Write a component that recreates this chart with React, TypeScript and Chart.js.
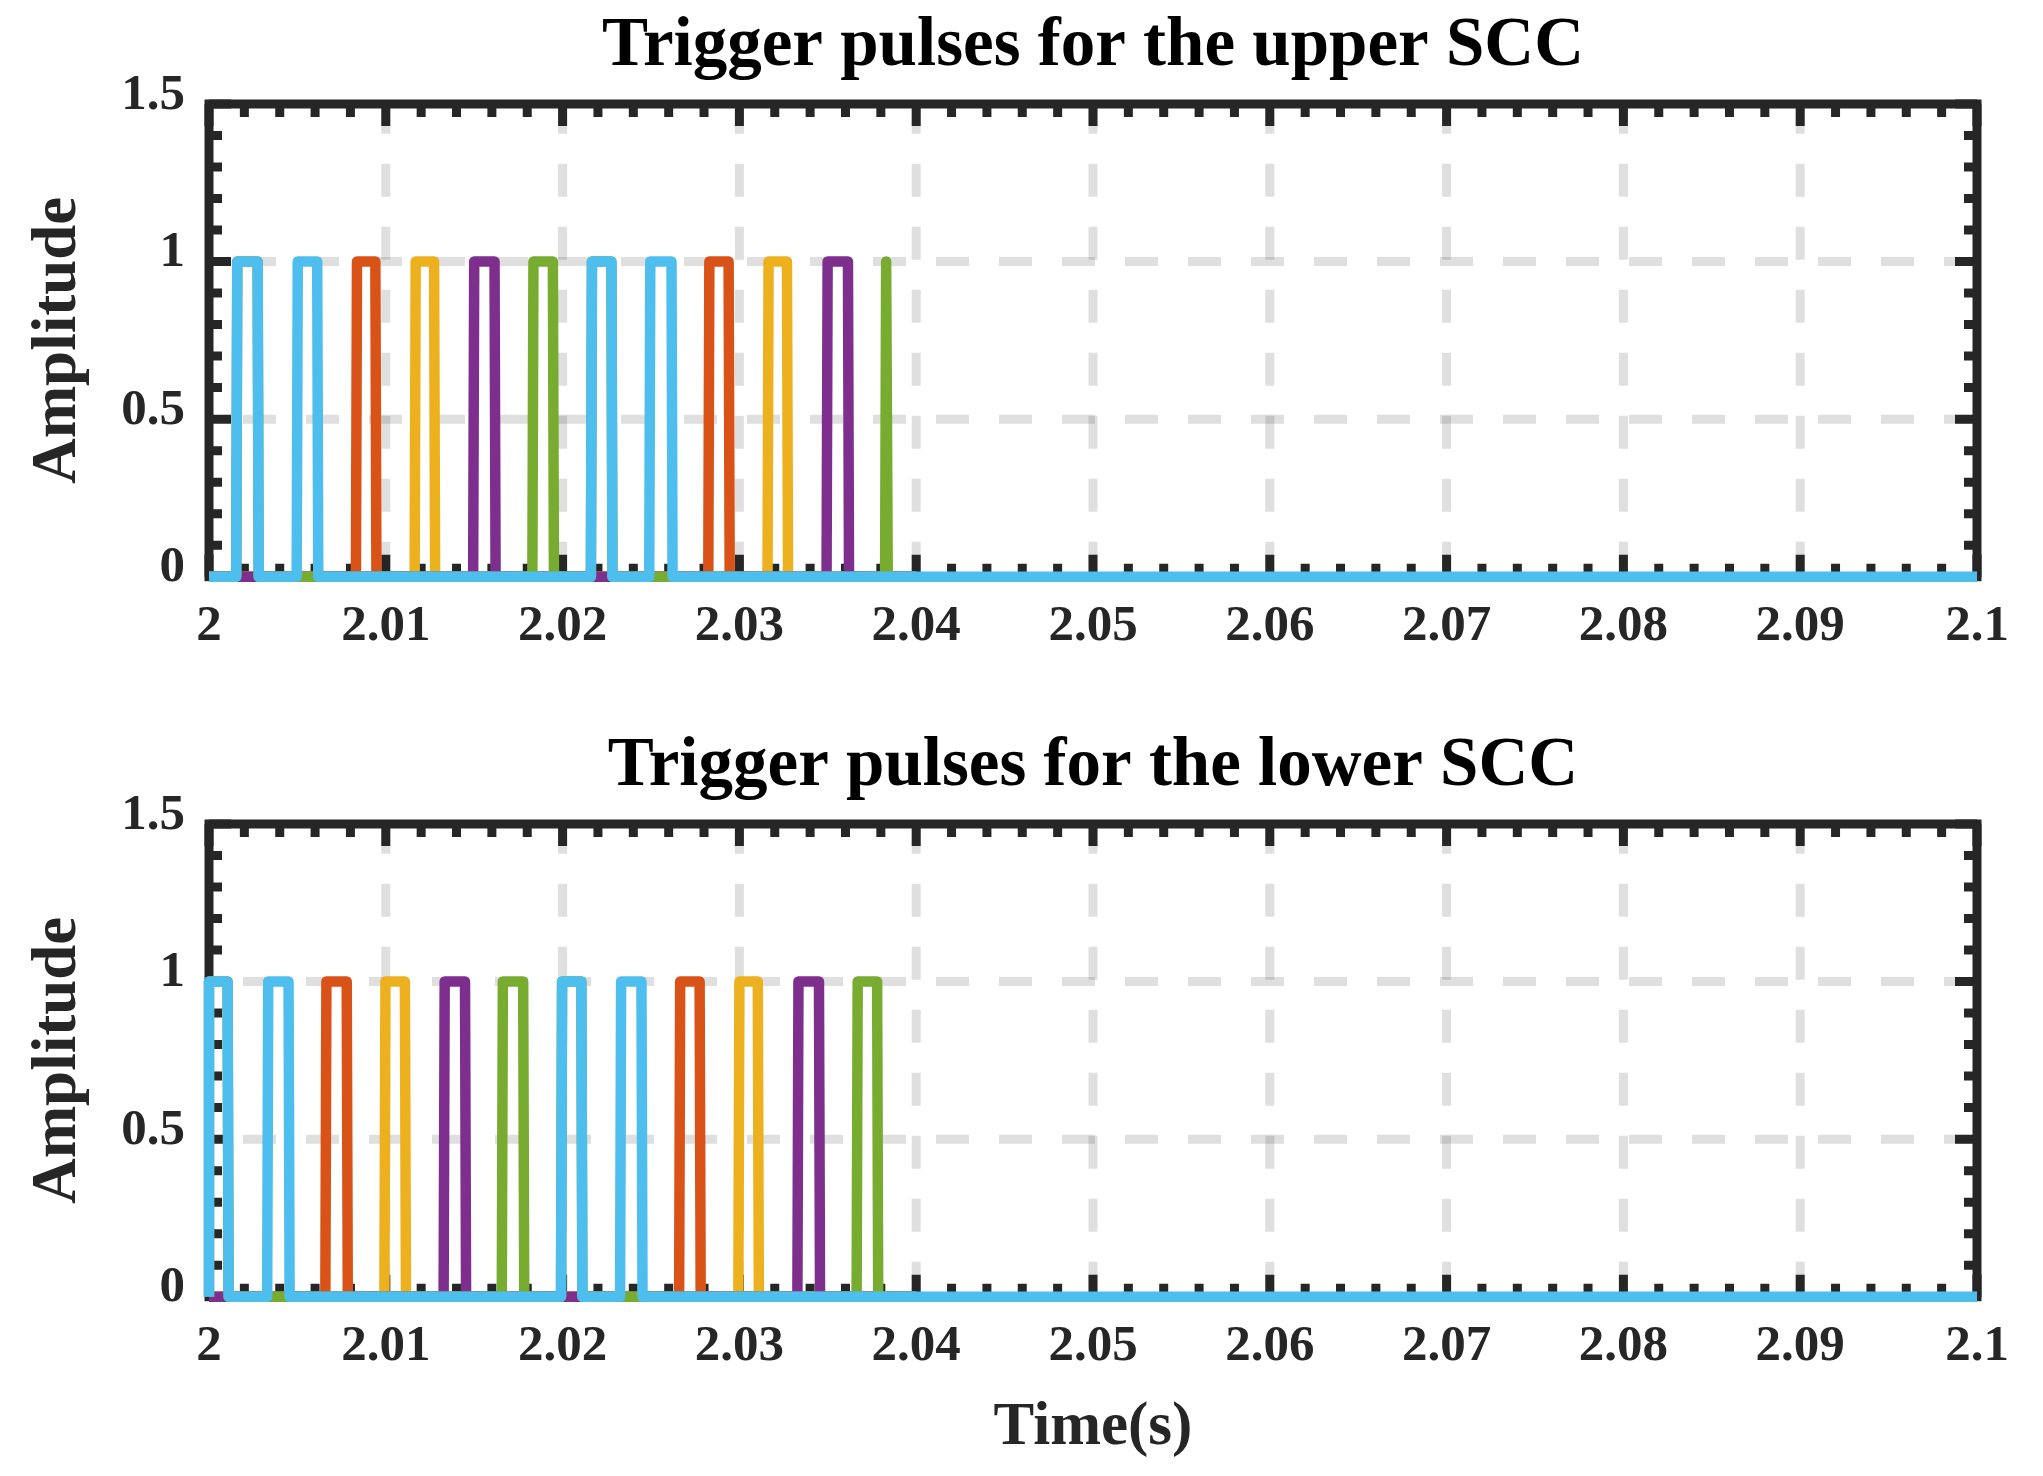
import { useEffect, useRef } from 'react';
import { Chart, registerables } from 'chart.js';

Chart.register(...registerables);

// ---------- axis values ----------
const X_MIN = 2;
const X_MAX = 2.1;
const Y_MIN = 0;
const Y_MAX = 1.5;
const X_TICKS = [2, 2.01, 2.02, 2.03, 2.04, 2.05, 2.06, 2.07, 2.08, 2.09, 2.1];
const X_TICK_LABELS = ['2', '2.01', '2.02', '2.03', '2.04', '2.05', '2.06', '2.07', '2.08', '2.09', '2.1'];
const Y_TICKS = [0, 0.5, 1, 1.5];
const Y_TICK_LABELS = ['0', '0.5', '1', '1.5'];
const X_MINOR_STEP = 0.002;
const Y_MINOR_STEP = 0.1;

const TITLE_UPPER = 'Trigger pulses for the upper SCC';
const TITLE_LOWER = 'Trigger pulses for the lower SCC';
const Y_TITLE = 'Amplitude';
const X_TITLE = 'Time(s)';

// ---------- pulse data: [rise time, fall time] (s), amplitude 1 ----------
const UPPER_CYAN: [number, number][] = [[2.0016, 2.00275], [2.00502, 2.00612], [2.02166, 2.02276], [2.02496, 2.02616]];
const UPPER_ORANGE: [number, number][] = [[2.00837, 2.00941], [2.0283, 2.02939]];
const UPPER_YELLOW: [number, number][] = [[2.01169, 2.01273], [2.03165, 2.03269]];
const UPPER_PURPLE: [number, number][] = [[2.015, 2.01615], [2.03499, 2.03614]];
const UPPER_GREEN: [number, number][] = [[2.0016, 2.00275], [2.01835, 2.01945], [2.02166, 2.02276], [2.0383, 2.03833]];

const LOWER_CYAN: [number, number][] = [[2.0, 2.00105], [2.00335, 2.0045], [2.01997, 2.02106], [2.02331, 2.02446]];
const LOWER_ORANGE: [number, number][] = [[2.00664, 2.00779], [2.02665, 2.02775]];
const LOWER_YELLOW: [number, number][] = [[2.00998, 2.01108], [2.03, 2.03104]];
const LOWER_PURPLE: [number, number][] = [[2.01333, 2.01448], [2.03334, 2.0345]];
const LOWER_GREEN: [number, number][] = [[2.0, 2.00105], [2.01662, 2.01777], [2.01997, 2.02106], [2.03669, 2.03779]];

const COLORED_END = 2.04; // end of recorded colored signals
const CYAN_END = 2.1;
const EDGE = 0.00006; // rise / fall time of each edge

// ---------- style ----------
const FONT = "'Liberation Serif', 'Times New Roman', serif";
const AXIS_COLOR = '#262626';
const GRID_COLOR = 'rgba(38,38,38,0.15)';
const C_CYAN = '#4DBEEE';
const C_ORANGE = '#D95319';
const C_YELLOW = '#EDB120';
const C_PURPLE = '#7E2F8E';
const C_GREEN = '#77AC30';

function pulseTrain(pulses: [number, number][], tEnd: number) {
  const pts: { x: number; y: number }[] = [{ x: X_MIN, y: 0 }];
  for (const [s, e] of pulses) {
    pts.push({ x: Math.max(X_MIN, s - EDGE), y: 0 });
    pts.push({ x: s, y: 1 });
    pts.push({ x: e, y: 1 });
    pts.push({ x: e + EDGE, y: 0 });
  }
  pts.push({ x: tEnd, y: 0 });
  return pts;
}

function ds(data: { x: number; y: number }[], color: string) {
  return {
    data,
    borderColor: color,
    backgroundColor: color,
    borderWidth: 10.5,
    pointRadius: 0,
    pointHoverRadius: 0,
    tension: 0,
    fill: false,
    borderJoinStyle: 'round' as const,
    borderCapStyle: 'butt' as const,
    clip: 14,
  };
}

const framePlugin = {
  id: 'matlabFrame',
  beforeDatasetsDraw(chart: any) {
    const { ctx, chartArea: a } = chart;
    const xs = chart.scales.x;
    const ys = chart.scales.y;
    ctx.save();
    // dashed grid
    ctx.strokeStyle = GRID_COLOR;
    ctx.lineWidth = 9;
    ctx.lineCap = 'butt';
    ctx.setLineDash([33, 30]);
    ctx.lineDashOffset = 3.2;
    xs.ticks.forEach((t: any, i: number) => {
      if (i === 0 || i === xs.ticks.length - 1) return;
      const px = xs.getPixelForValue(t.value);
      ctx.beginPath();
      ctx.moveTo(px, a.top);
      ctx.lineTo(px, a.bottom);
      ctx.stroke();
    });
    ctx.lineDashOffset = 29;
    ys.ticks.forEach((t: any, i: number) => {
      if (i === 0 || i === ys.ticks.length - 1) return;
      const py = ys.getPixelForValue(t.value);
      ctx.beginPath();
      ctx.moveTo(a.left, py);
      ctx.lineTo(a.right, py);
      ctx.stroke();
    });
    ctx.setLineDash([]);
    // tick marks (inside, all four sides)
    ctx.strokeStyle = AXIS_COLOR;
    ctx.lineWidth = 9;
    ctx.beginPath();
    const nx = Math.round((X_MAX - X_MIN) / X_MINOR_STEP);
    for (let k = 0; k <= nx; k++) {
      const v = X_MIN + k * X_MINOR_STEP;
      const len = k % 5 === 0 ? 22 : 13;
      const px = xs.getPixelForValue(v);
      ctx.moveTo(px, a.bottom);
      ctx.lineTo(px, a.bottom - len);
      ctx.moveTo(px, a.top);
      ctx.lineTo(px, a.top + len);
    }
    const ny = Math.round((Y_MAX - Y_MIN) / Y_MINOR_STEP);
    for (let k = 0; k <= ny; k++) {
      const v = Y_MIN + k * Y_MINOR_STEP;
      const len = k % 5 === 0 ? 22 : 13;
      const py = ys.getPixelForValue(v);
      ctx.moveTo(a.left, py);
      ctx.lineTo(a.left + len, py);
      ctx.moveTo(a.right, py);
      ctx.lineTo(a.right - len, py);
    }
    ctx.stroke();
    // box
    ctx.lineJoin = 'miter';
    ctx.strokeRect(a.left, a.top, a.right - a.left, a.bottom - a.top);
    ctx.restore();
  },
};

function buildConfig(title: string, sets: [number, number][][], xAxisHeight: number, showXTitle: boolean): any {
  const [cyan, orange, yellow, purple, green] = sets;
  return {
    type: 'line',
    data: {
      datasets: [
        ds(pulseTrain(cyan, CYAN_END), C_CYAN),
        ds(pulseTrain(green, COLORED_END), C_GREEN),
        ds(pulseTrain(purple, COLORED_END), C_PURPLE),
        ds(pulseTrain(yellow, COLORED_END), C_YELLOW),
        ds(pulseTrain(orange, COLORED_END), C_ORANGE),
      ],
    },
    options: {
      responsive: false,
      animation: false,
      events: [],
      layout: { padding: { left: 0, right: 66, top: 0, bottom: 0 } },
      plugins: {
        legend: { display: false },
        tooltip: { enabled: false },
        title: {
          display: true,
          text: title,
          color: '#000000',
          fullSize: false,
          font: { family: FONT, size: 69, weight: 'bold', lineHeight: 1 },
          padding: { top: 13, bottom: 22 },
        },
      },
      scales: {
        x: {
          type: 'linear',
          min: X_MIN,
          max: X_MAX,
          afterBuildTicks: (s: any) => {
            s.ticks = X_TICKS.map((v) => ({ value: v }));
          },
          afterFit: (s: any) => {
            s.height = xAxisHeight;
          },
          grid: { display: false, drawTicks: false },
          border: { display: false },
          ticks: {
            autoSkip: false,
            maxRotation: 0,
            minRotation: 0,
            padding: 25,
            color: AXIS_COLOR,
            font: { family: FONT, size: 51, weight: 'bold', lineHeight: 1 },
            callback: (v: number) => X_TICK_LABELS[X_TICKS.indexOf(v)] ?? '',
          },
          title: {
            display: showXTitle,
            text: X_TITLE,
            color: AXIS_COLOR,
            font: { family: FONT, size: 61, weight: 'bold', lineHeight: 1 },
            padding: { top: 0, bottom: 16.8 },
          },
        },
        y: {
          type: 'linear',
          min: Y_MIN,
          max: Y_MAX,
          afterBuildTicks: (s: any) => {
            s.ticks = Y_TICKS.map((v) => ({ value: v }));
          },
          afterFit: (s: any) => {
            s.width = 209;
          },
          grid: { display: false, drawTicks: false },
          border: { display: false },
          ticks: {
            autoSkip: false,
            padding: 24,
            labelOffset: -8.5,
            color: AXIS_COLOR,
            font: { family: FONT, size: 51, weight: 'bold', lineHeight: 1 },
            callback: (v: number) => Y_TICK_LABELS[Y_TICKS.indexOf(v)] ?? '',
          },
          title: {
            display: true,
            text: Y_TITLE,
            color: AXIS_COLOR,
            font: { family: FONT, size: 63, weight: 'bold', lineHeight: 1 },
            padding: { top: 27.5, bottom: 0 },
          },
        },
      },
    },
    plugins: [framePlugin],
  };
}

export default function App() {
  const topRef = useRef<HTMLCanvasElement>(null);
  const botRef = useRef<HTMLCanvasElement>(null);

  useEffect(() => {
    document.body.style.margin = '0';
    const c1 = new Chart(
      topRef.current as HTMLCanvasElement,
      buildConfig(TITLE_UPPER, [UPPER_CYAN, UPPER_ORANGE, UPPER_YELLOW, UPPER_PURPLE, UPPER_GREEN], 720 - 576.7, false)
    );
    const c2 = new Chart(
      botRef.current as HTMLCanvasElement,
      buildConfig(TITLE_LOWER, [LOWER_CYAN, LOWER_ORANGE, LOWER_YELLOW, LOWER_PURPLE, LOWER_GREEN], 756 - 576.7, true)
    );
    return () => {
      c1.destroy();
      c2.destroy();
    };
  }, []);

  return (
    <div style={{ position: 'absolute', left: 0, top: 0, width: 2043, height: 1476, background: '#ffffff', overflow: 'hidden' }}>
      <canvas ref={topRef} width={2043} height={720} style={{ position: 'absolute', left: 0, top: 0, width: 2043, height: 720 }} />
      <canvas ref={botRef} width={2043} height={756} style={{ position: 'absolute', left: 0, top: 720, width: 2043, height: 756 }} />
    </div>
  );
}
